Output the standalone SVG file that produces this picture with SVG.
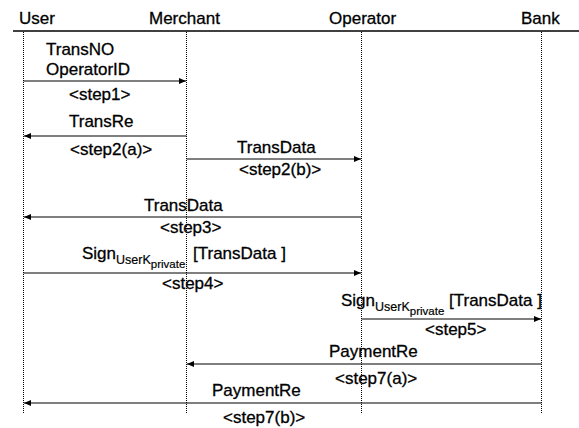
<svg xmlns="http://www.w3.org/2000/svg" width="579" height="428" viewBox="0 0 579 428">
  <style>
    text { font-family: "Liberation Sans", Arial, sans-serif; font-size: 17px; fill: #000; stroke: #000; stroke-width: 0.3; }
    .sub1 { font-size: 12.5px; stroke-width: 0.2; }
    .sub2 { font-size: 11.5px; stroke-width: 0.2; }
    .life { stroke: #000; stroke-width: 1; stroke-dasharray: 1 1; fill: none; }
    .msg { stroke: #000; stroke-width: 1.2; fill: none; marker-end: url(#head); }
    .rule { stroke: #000; stroke-width: 1.6; }
  </style>
  <defs>
    <marker id="head" markerUnits="userSpaceOnUse" markerWidth="8" markerHeight="6" refX="7" refY="3" orient="auto">
      <path d="M0,0 L7,3 L0,6 Z" fill="#000"/>
    </marker>
  </defs>
  <rect width="579" height="428" fill="#fff"/>

  <!-- header rule under participant names -->
  <line class="rule" x1="13" y1="31" x2="579" y2="31"/>

  <!-- participants -->
  <g id="user">
    <text x="19" y="24">User</text>
    <line class="life" x1="23.5" y1="32" x2="23.5" y2="414"/>
  </g>
  <g id="merchant">
    <text x="149" y="24">Merchant</text>
    <line class="life" x1="186.5" y1="32" x2="186.5" y2="414"/>
  </g>
  <g id="operator">
    <text x="329" y="24">Operator</text>
    <line class="life" x1="361.5" y1="32" x2="361.5" y2="414"/>
  </g>
  <g id="bank">
    <text x="521" y="24">Bank</text>
    <line class="life" x1="541.5" y1="32" x2="541.5" y2="414"/>
  </g>

  <!-- messages -->
  <g id="connectors">
    <g id="step1">
      <text x="46" y="55">TransNO</text>
      <text x="46" y="75">OperatorID</text>
      <line class="msg" x1="23.5" y1="81" x2="186" y2="81"/>
      <text x="69" y="100">&lt;step1&gt;</text>
    </g>
    <g id="step2a">
      <text x="69" y="127">TransRe</text>
      <line class="msg" x1="186.5" y1="136" x2="24" y2="136"/>
      <text x="70" y="155">&lt;step2(a)&gt;</text>
    </g>
    <g id="step2b">
      <text x="237" y="153">TransData</text>
      <line class="msg" x1="186.5" y1="159" x2="361" y2="159"/>
      <text x="239" y="175">&lt;step2(b)&gt;</text>
    </g>
    <g id="step3">
      <text x="144" y="211">TransData</text>
      <line class="msg" x1="361.5" y1="217" x2="24" y2="217"/>
      <text x="160" y="233">&lt;step3&gt;</text>
    </g>
    <g id="step4">
      <text x="82" y="259">Sign<tspan class="sub1" dy="5">UserK</tspan><tspan class="sub2" dy="4">private</tspan></text>
      <text x="193" y="259">[TransData ]</text>
      <line class="msg" x1="23.5" y1="273" x2="361" y2="273"/>
      <text x="162" y="289">&lt;step4&gt;</text>
    </g>
    <g id="step5">
      <text x="341" y="306">Sign<tspan class="sub1" dy="5">UserK</tspan><tspan class="sub2" dy="4">private</tspan></text>
      <text x="449" y="306">[TransData ]</text>
      <line class="msg" x1="361.5" y1="319" x2="541" y2="319"/>
      <text x="425" y="335">&lt;step5&gt;</text>
    </g>
    <g id="step7a">
      <text x="329" y="357">PaymentRe</text>
      <line class="msg" x1="541.5" y1="364" x2="187" y2="364"/>
      <text x="335" y="384">&lt;step7(a)&gt;</text>
    </g>
    <g id="step7b">
      <text x="212" y="396">PaymentRe</text>
      <line class="msg" x1="541.5" y1="403" x2="24" y2="403"/>
      <text x="223" y="423">&lt;step7(b)&gt;</text>
    </g>
  </g>
</svg>
